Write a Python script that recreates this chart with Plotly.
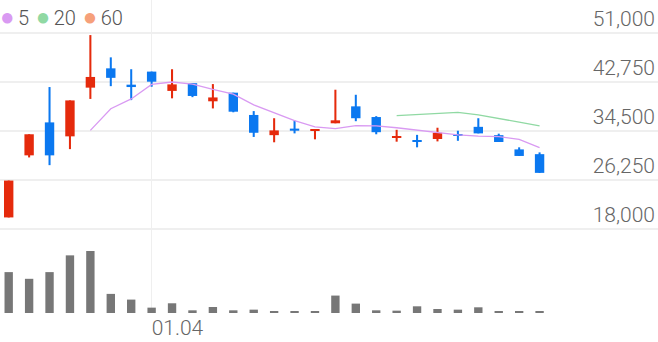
import plotly.graph_objects as go

idx = list(range(27))
opens  = [19950, 30400, 35950, 33600, 41800, 45050, 42300, 44500, 41250, 42550, 39500, 40950, 37200, 33800,
          34900, 34500, 35800, 38650, 36850, 33350, 32950, 33150, 33950, 35200, 33800, 31400, 30600]
highs  = [26150, 33950, 41900, 39650, 50650, 46900, 44900, 44500, 44900, 42550, 42400, 40950, 37850, 36650,
          36250, 34700, 41450, 40600, 37000, 34700, 33850, 35050, 34550, 36650, 34050, 31750, 30900]
lows   = [19950, 30050, 28750, 31450, 39900, 42050, 39700, 41950, 40000, 40200, 38300, 37650, 33500, 32600,
          34100, 33100, 35800, 36150, 33950, 32700, 31750, 32750, 32850, 34100, 32650, 30300, 27450]
closes = [26150, 33950, 30400, 39650, 43600, 43450, 41900, 42800, 42350, 40400, 40150, 37750, 34200, 34600,
          34550, 34700, 36300, 36650, 34300, 33600, 32700, 34200, 33700, 34100, 32650, 30300, 27450]
volumes = [1220000, 1020000, 1220000, 1720000, 1850000, 570000, 400000, 160000, 290000, 80000, 180000, 80000,
           100000, 60000, 40000, 40000, 520000, 280000, 80000, 70000, 200000, 120000, 100000, 170000, 60000,
           60000, 60000]
ma5_x = list(range(4, 27))
ma5 = [34600, 38250, 39900, 42350, 42750, 42400, 41500, 40700, 38900, 37600, 36250, 35200, 34900, 35400,
       35350, 35050, 34650, 34200, 33850, 33650, 33550, 33100, 31700]
ma20_x = list(range(19, 27))
ma20 = [37100, 37300, 37500, 37650, 37200, 36650, 36000, 35350]
price_ticks = [18000, 26250, 34500, 42750, 51000]
date_tick_idx = [7]
date_tick_text = ["01.04"]

RED = "#e52a0c"
BLUE = "#0b78f0"
GRID = "#efefef"

colors = [RED if c >= o else BLUE for o, c in zip(opens, closes)]
body_base = [min(o, c) for o, c in zip(opens, closes)]
body_len = [abs(c - o) for o, c in zip(opens, closes)]
wick_len = [h - l for h, l in zip(highs, lows)]

fig = go.Figure()
# wicks
fig.add_trace(go.Bar(x=idx, y=wick_len, base=lows, width=0.1,
                     marker=dict(color=colors, line=dict(width=0)),
                     showlegend=False, hoverinfo="skip", yaxis="y"))
# bodies
fig.add_trace(go.Bar(x=idx, y=body_len, base=body_base, width=0.46,
                     marker=dict(color=colors, line=dict(width=0)),
                     showlegend=False, hoverinfo="skip", yaxis="y"))
fig.add_trace(go.Scatter(x=ma5_x, y=ma5, mode="lines", line=dict(color="#d99af2", width=1.3),
                         showlegend=False, hoverinfo="skip", yaxis="y"))
fig.add_trace(go.Scatter(x=ma20_x, y=ma20, mode="lines", line=dict(color="#90d9a3", width=1.3),
                         showlegend=False, hoverinfo="skip", yaxis="y"))
fig.add_trace(go.Bar(x=idx, y=volumes, marker=dict(color="#777777", line=dict(width=0)), width=0.41,
                     showlegend=False, hoverinfo="skip", yaxis="y2"))

H = 342.0
dot = "<span style='color:{c};font-size:24px'>●</span>"
gap_s = "<span style='font-size:14px'>\u00a0</span>"
gap_l = "<span style='font-size:14px'>\u00a0\u00a0</span>"
fig.update_layout(
    width=658, height=342, margin=dict(l=0, r=0, t=0, b=0),
    paper_bgcolor="white", plot_bgcolor="white",
    font=dict(family="Roboto", color="#666666"),
    barmode="overlay",
    xaxis=dict(range=[-0.426, 31.8], tickmode="array",
               tickvals=date_tick_idx, ticktext=date_tick_text, showgrid=True, gridcolor=GRID, gridwidth=1,
               zeroline=False, showline=False, ticks="", anchor="y2",
               ticklabelposition="outside right", tickfont=dict(size=21, color="#666666", weight=300)),
    yaxis=dict(domain=[1 - 235 / H, 1], range=[16990, 56556], tickmode="array", tickvals=price_ticks,
               side="right", showgrid=True, gridcolor=GRID, gridwidth=1.5, zeroline=False,
               ticklabelposition="inside top", tickformat=",", ticks="",
               tickfont=dict(size=21, color="#666666", weight=300)),
    yaxis2=dict(domain=[1 - 313 / H, 1 - 235 / H], range=[0, 2327000], showgrid=False, zeroline=False,
                showticklabels=False, showline=True, linecolor=GRID, linewidth=1.5, mirror=False),
    annotations=[dict(
        xref="paper", yref="paper", x=-0.003, y=1 - 17 / H, xanchor="left", yanchor="middle", showarrow=False,
        text=(dot.format(c="#d99af2") + gap_s + "5" + gap_l + dot.format(c="#90d9a3") + gap_s + "20" + gap_l
              + dot.format(c="#f6a07a") + gap_s + "60"),
        font=dict(size=20, color="#555555", family="Roboto", weight=300))],
)
fig.write_html("out.html")
